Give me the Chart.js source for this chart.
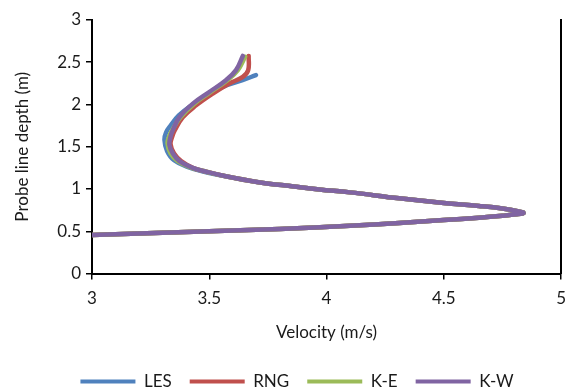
<!DOCTYPE html>
<html>
<head>
<meta charset="utf-8">
<script src="https://cdn.jsdelivr.net/npm/chart.js@4/dist/chart.umd.min.js"></script>
<style>
html,body{margin:0;padding:0;background:#fff;}
#wrap{width:575px;height:388px;position:relative;}
</style>
</head>
<body>
<div id="wrap"><canvas id="c" width="575" height="388"></canvas></div>
<script>
// ---- data (velocity in m/s, depth in m) ----
const seriesNames = ['LES', 'RNG', 'K-E', 'K-W'];
const xTicks = [3, 3.5, 4, 4.5, 5];
const yTicks = [0, 0.5, 1, 1.5, 2, 2.5, 3];

const lesVel   = [3.00,3.40,3.80,4.10,4.31,4.50,4.65,4.75,4.81,4.84,4.82,4.75,4.65,4.50,4.31,4.10,3.97,3.86,3.71,3.57,3.47,3.41,3.35,3.32,3.309,3.316,3.335,3.37,3.43,3.50,3.575,3.642,3.699];
const lesDepth = [0.455,0.49,0.527,0.565,0.597,0.632,0.66,0.683,0.70,0.716,0.735,0.77,0.80,0.835,0.89,0.96,0.995,1.03,1.08,1.15,1.21,1.26,1.34,1.45,1.58,1.67,1.75,1.87,2.00,2.13,2.23,2.288,2.348];

const rngVel   = [3.00,3.40,3.80,4.10,4.31,4.50,4.65,4.75,4.81,4.84,4.82,4.75,4.65,4.50,4.31,4.10,3.97,3.86,3.71,3.57,3.48,3.43,3.38,3.35,3.335,3.342,3.352,3.387,3.444,3.515,3.585,3.643,3.666,3.668];
const rngDepth = [0.455,0.49,0.527,0.565,0.597,0.632,0.66,0.683,0.70,0.716,0.735,0.77,0.80,0.835,0.89,0.96,0.995,1.03,1.08,1.15,1.21,1.25,1.33,1.42,1.53,1.62,1.69,1.849,1.99,2.129,2.248,2.327,2.407,2.575];

const keVel    = [3.00,3.40,3.80,4.10,4.31,4.50,4.65,4.75,4.81,4.84,4.82,4.75,4.65,4.50,4.31,4.10,3.97,3.86,3.71,3.57,3.48,3.425,3.365,3.335,3.322,3.33,3.345,3.378,3.436,3.506,3.577,3.622,3.653];
const keDepth  = [0.455,0.49,0.527,0.565,0.597,0.632,0.66,0.683,0.70,0.716,0.735,0.77,0.80,0.835,0.89,0.96,0.995,1.03,1.08,1.15,1.21,1.25,1.33,1.42,1.54,1.63,1.71,1.85,2.01,2.148,2.288,2.407,2.565];

const kwVel    = [3.00,3.40,3.80,4.10,4.31,4.50,4.65,4.75,4.81,4.84,4.82,4.75,4.65,4.50,4.31,4.10,3.97,3.86,3.71,3.57,3.48,3.43,3.373,3.345,3.33,3.335,3.345,3.373,3.43,3.50,3.571,3.614,3.643];
const kwDepth  = [0.455,0.49,0.527,0.565,0.597,0.632,0.66,0.683,0.70,0.716,0.735,0.77,0.80,0.835,0.89,0.96,0.995,1.03,1.08,1.15,1.21,1.25,1.33,1.42,1.52,1.62,1.70,1.85,2.01,2.148,2.288,2.407,2.575];

const colors = ['#4F81BD', '#C0504D', '#9BBB59', '#8064A2'];

function pts(v, d) { return v.map((x, i) => ({x: x, y: d[i]})); }
const allVel = [lesVel, rngVel, keVel, kwVel];
const allDepth = [lesDepth, rngDepth, keDepth, kwDepth];

const FONT = 'Lato';
const TXT = '#1a1a1a';
const datasets = seriesNames.map((n, i) => ({
  label: n,
  data: pts(allVel[i], allDepth[i]),
  borderColor: colors[i],
  backgroundColor: colors[i],
  borderWidth: 4.5,
  pointRadius: 0,
  showLine: true,
  fill: false,
  tension: 0.4,
  order: seriesNames.length - 1 - i,
  borderCapStyle: 'round',
  borderJoinStyle: 'round'
}));

const shiftLegend = {
  id: 'shiftLegend',
  afterLayout(chart) {
    if (chart.legend) { chart.legend.left += 12; chart.legend.right += 12; }
  }
};

new Chart(document.getElementById('c'), {
  type: 'scatter',
  data: { datasets: datasets },
  plugins: [shiftLegend],
  options: {
    responsive: false,
    animation: false,
    devicePixelRatio: 1,
    layout: { padding: { left: 0, right: 5, top: 20, bottom: -12 } },
    plugins: {
      tooltip: { enabled: false },
      legend: {
        position: 'bottom',
        labels: {
          font: { family: FONT, size: 17 },
          color: TXT,
          boxWidth: 55,
          boxHeight: 4,
          padding: 18,
          generateLabels: (chart) => chart.data.datasets.map((ds, i) => ({
            text: ds.label,
            fillStyle: ds.borderColor,
            strokeStyle: ds.borderColor,
            lineWidth: 0,
            hidden: false,
            datasetIndex: i,
            fontColor: TXT
          }))
        }
      }
    },
    scales: {
      x: {
        type: 'linear',
        min: 3, max: 5,
        afterBuildTicks: (s) => { s.ticks = xTicks.map(v => ({value: v})); },
        afterFit: (s) => { s.height = 81.5; },
        grid: { display: true, drawOnChartArea: false, color: '#000', lineWidth: 1.5, tickLength: 6 },
        border: { display: true, color: '#000', width: 2 },
        ticks: { font: { family: FONT, size: 17 }, color: TXT, padding: 9, maxRotation: 0, callback: (v) => String(v) },
        title: { display: true, text: 'Velocity (m/s)', font: { family: FONT, size: 17 }, color: TXT, padding: { top: 6, bottom: 12 } }
      },
      y: {
        type: 'linear',
        min: 0, max: 3,
        afterBuildTicks: (s) => { s.ticks = yTicks.map(v => ({value: v})); },
        afterFit: (s) => { s.width = 92; },
        grid: { display: true, drawOnChartArea: false, color: '#000', lineWidth: 1.5, tickLength: 6 },
        border: { display: true, color: '#000', width: 2 },
        ticks: { font: { family: FONT, size: 17 }, color: TXT, padding: 5, callback: (v) => String(v) },
        title: { display: true, text: 'Probe line depth (m)', font: { family: FONT, size: 17 }, color: TXT, padding: { top: 12, bottom: 4 } }
      },
      y2: {
        type: 'linear',
        position: 'right',
        min: 0, max: 3,
        afterFit: (s) => { s.width = 0; },
        grid: { display: false },
        border: { display: true, color: '#000', width: 2 },
        ticks: { display: false }
      }
    }
  }
});
</script>
</body>
</html>
